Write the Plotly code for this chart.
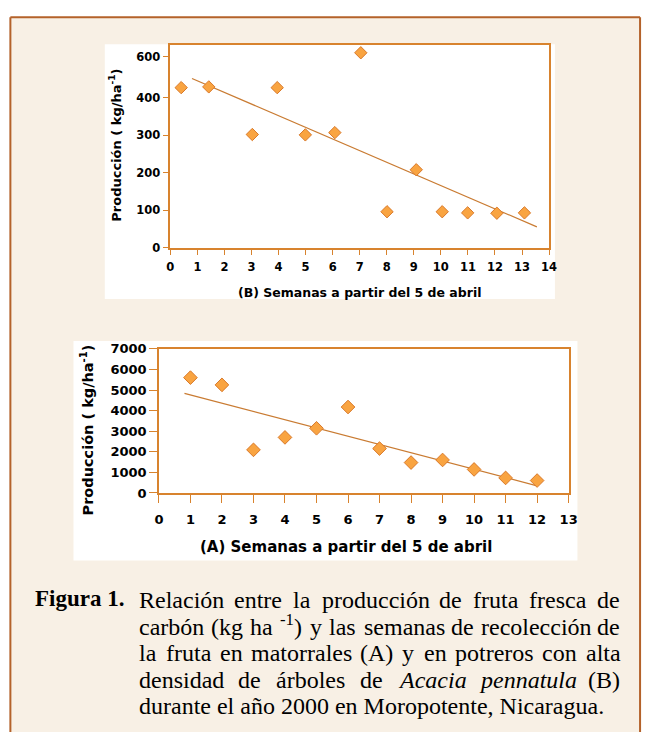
import re
import numpy as np
import plotly.graph_objects as go

W, H = 652, 740

# ---------------- data ----------------
# (B) potreros - top chart
weeks_b = [0.4, 1.42, 3.03, 3.95, 4.99, 6.08, 7.04, 8.01, 9.09, 10.05, 10.99, 12.07, 13.09]
prod_b = [427, 429, 302, 427, 301, 307, 520, 96, 208, 96, 93, 92, 93]
trend_b_x = [0.8, 13.55]
x_ticks_b = list(range(0, 15))
y_tickvals_b = [0, 100, 200, 300, 400, 510]
y_ticktext_b = ["0", "100", "200", "300", "400", "600"]

# (A) matorrales - bottom chart
weeks_a = [1, 2, 3, 4, 5, 6, 7, 8, 9, 10, 11, 12]
prod_a = [5605, 5252, 2095, 2700, 3143, 4176, 2157, 1476, 1603, 1143, 730, 603]
trend_a_x = [0.81, 12.0]
x_ticks_a = list(range(0, 14))
y_ticks_a = [0, 1000, 2000, 3000, 4000, 5000, 6000, 7000]

title_x_b = "(B) Semanas a partir del 5 de abril"
title_x_a = "(A) Semanas a partir del 5 de abril"
title_y = "Producción ( kg/ha<sup>-1</sup>)"

caption_label = "Figura 1."
caption_lines = [
    "Relación entre la producción de fruta fresca de",
    "carbón (kg ha <sup>-1</sup>) y las semanas de recolección de",
    "la fruta en matorrales (A) y en potreros con alta",
    "densidad de árboles de <i>Acacia</i> <i>pennatula</i> (B)",
    "durante el año 2000 en Moropotente, Nicaragua.",
]

# ---------------- style ----------------
BEIGE = "#F8F0E5"
BORDER = "#B4622A"
PLOT_BG = "#FCF4D6"
AXIS_C = "#D8832E"
FILL = "#F9A441"
EDGE = "#D9792A"
TREND_C = "#C97B32"
SANS = "DejaVu Sans"
SERIF = "Liberation Serif"


def px(xp):
    return xp / W


def py(yp):
    return 1 - yp / H


fig = go.Figure()

# trend lines from least-squares fit of the data
fit_b = np.polyfit(weeks_b, prod_b, 1)
fit_a = np.polyfit(weeks_a, prod_a, 1)

fig.add_trace(go.Scatter(x=trend_b_x, y=np.polyval(fit_b, trend_b_x), mode="lines",
                         line=dict(color=TREND_C, width=1.2), xaxis="x", yaxis="y",
                         showlegend=False, hoverinfo="skip"))
fig.add_trace(go.Scatter(x=weeks_b, y=prod_b, mode="markers",
                         marker=dict(symbol="diamond", size=9.5, color=FILL,
                                     line=dict(color=EDGE, width=1)),
                         xaxis="x", yaxis="y", showlegend=False))
fig.add_trace(go.Scatter(x=trend_a_x, y=np.polyval(fit_a, trend_a_x), mode="lines",
                         line=dict(color=TREND_C, width=1.2), xaxis="x2", yaxis="y2",
                         showlegend=False, hoverinfo="skip"))
fig.add_trace(go.Scatter(x=weeks_a, y=prod_a, mode="markers",
                         marker=dict(symbol="diamond", size=10.5, color=FILL,
                                     line=dict(color=EDGE, width=1)),
                         xaxis="x2", yaxis="y2", showlegend=False))

axis_common = dict(showgrid=False, zeroline=False, showline=True, linecolor=AXIS_C,
                   linewidth=1.5, mirror=True, ticks="outside", tickcolor=AXIS_C,
                   tickwidth=1.2, color="black")

fig.update_layout(
    width=W, height=H, margin=dict(l=0, r=0, t=0, b=0),
    paper_bgcolor="white", plot_bgcolor=PLOT_BG, showlegend=False,
    xaxis=dict(domain=[px(169), px(556)], range=[0, 14], tickvals=x_ticks_b,
               ticklen=6, anchor="y", ticklabelstandoff=2,
               tickfont=dict(family=SANS, size=11.5, weight="bold", color="black"),
               **axis_common),
    yaxis=dict(domain=[py(245.7), py(38.3)], range=[0, 542], tickvals=y_tickvals_b,
               ticktext=y_ticktext_b, ticklen=6, anchor="x",
               tickfont=dict(family=SANS, size=11.5, weight="bold", color="black"),
               **axis_common),
    xaxis2=dict(domain=[px(157.3), px(576)], range=[0, 13], tickvals=x_ticks_a,
                ticklen=8, anchor="y2", ticklabelstandoff=6,
                tickfont=dict(family=SANS, size=13, weight="bold", color="black"),
                **axis_common),
    yaxis2=dict(domain=[py(496), py(349)], range=[0, 7000], tickvals=y_ticks_a,
                ticklen=8, anchor="x2",
                tickfont=dict(family=SANS, size=13, weight="bold", color="black"),
                **axis_common),
)

# background panels and the frame (frame kept inside the page)
shapes = [
    dict(type="rect", xref="paper", yref="paper", x0=px(5.5), x1=px(649), y0=0, y1=py(10.5),
         fillcolor=BEIGE, line=dict(width=0), layer="below"),
    dict(type="line", xref="paper", yref="paper", x0=px(5.5), x1=px(649), y0=py(10.5), y1=py(10.5),
         line=dict(color=BORDER, width=2), layer="below"),
    dict(type="line", xref="paper", yref="paper", x0=px(5.5), x1=px(5.5), y0=py(10.5), y1=0,
         line=dict(color=BORDER, width=2), layer="below"),
    dict(type="line", xref="paper", yref="paper", x0=px(649), x1=px(649), y0=py(10.5), y1=0,
         line=dict(color=BORDER, width=2), layer="below"),
    dict(type="rect", xref="paper", yref="paper", x0=px(102), x1=px(562), y0=py(298), y1=py(38),
         fillcolor="white", line=dict(width=0), layer="below"),
    dict(type="rect", xref="paper", yref="paper", x0=px(70), x1=px(585), y0=py(565), y1=py(341),
         fillcolor="white", line=dict(width=0), layer="below"),
]
fig.update_layout(shapes=shapes)

ann = []
# axis titles
ann.append(dict(text=title_x_b, x=px(363), y=py(291), xref="paper", yref="paper",
                xanchor="center", yanchor="middle", showarrow=False,
                font=dict(family=SANS, size=12.5, weight="bold", color="black")))
ann.append(dict(text=title_y, x=px(113), y=py(141), xref="paper", yref="paper",
                xanchor="center", yanchor="middle", showarrow=False, textangle=-90,
                font=dict(family=SANS, size=13, weight="bold", color="black")))
ann.append(dict(text=title_x_a, x=px(348), y=py(551), xref="paper", yref="paper",
                xanchor="center", yanchor="middle", showarrow=False,
                font=dict(family=SANS, size=15, weight="bold", color="black")))
ann.append(dict(text=title_y, x=px(84), y=py(432), xref="paper", yref="paper",
                xanchor="center", yanchor="middle", showarrow=False, textangle=-90,
                font=dict(family=SANS, size=14.5, weight="bold", color="black")))

# caption with justified lines (Times/Liberation Serif metrics)
REG = {
    'a': 444, 'b': 500, 'c': 444, 'd': 500, 'e': 444, 'f': 333, 'g': 500, 'h': 500, 'i': 278,
    'j': 278, 'k': 500, 'l': 278, 'm': 778, 'n': 500, 'o': 500, 'p': 500, 'q': 500, 'r': 333,
    's': 389, 't': 278, 'u': 500, 'v': 500, 'w': 722, 'x': 500, 'y': 500, 'z': 444,
    'á': 444, 'ó': 500, 'ñ': 500, 'é': 444, 'í': 278,
    'A': 722, 'B': 667, 'M': 889, 'N': 722, 'R': 667,
    '(': 333, ')': 333, ',': 250, '.': 250, '-': 333,
}
ITAL = {'A': 611, 'c': 444, 'a': 500, 'i': 278, 'p': 500, 'e': 444, 'n': 500, 't': 278,
        'u': 500, 'l': 278}


def word_width(word, size):
    total = 0.0
    italic = False
    sup = False
    for tok in re.split(r'(<[^>]+>)', word):
        if tok.startswith('<'):
            if tok == '<i>':
                italic = True
            elif tok == '</i>':
                italic = False
            elif tok == '<sup>':
                sup = True
            elif tok == '</sup>':
                sup = False
            continue
        for ch in tok:
            w = (ITAL if italic else REG).get(ch, 500)
            total += w * (0.7 if sup else 1.0)
    return total / 1000 * size


CAP_SIZE = 24
LEFT, RIGHT = 137, 628
line_bottoms = [619, 646, 673, 700, 727]

ann.append(dict(text="<b>" + caption_label + "</b>", x=px(29), y=py(line_bottoms[0]),
                xref="paper", yref="paper", xanchor="left", yanchor="bottom", showarrow=False,
                font=dict(family=SERIF, size=23, color="black")))

for i, line in enumerate(caption_lines):
    words = line.split(" ")
    if i < len(caption_lines) - 1:
        widths = [word_width(w, CAP_SIZE) for w in words]
        gap = (RIGHT - LEFT - sum(widths)) / (len(words) - 1)
        xpos = LEFT
        for w, wd in zip(words, widths):
            ann.append(dict(text=w, x=px(xpos), y=py(line_bottoms[i]), xref="paper", yref="paper",
                            xanchor="left", yanchor="bottom", showarrow=False, borderpad=0,
                            borderwidth=0,
                            font=dict(family=SERIF, size=CAP_SIZE, color="black")))
            xpos += wd + gap
    else:
        ann.append(dict(text=line, x=px(LEFT), y=py(line_bottoms[i]), xref="paper", yref="paper",
                        xanchor="left", yanchor="bottom", showarrow=False, borderpad=0,
                        borderwidth=0,
                        font=dict(family=SERIF, size=CAP_SIZE, color="black")))

fig.update_layout(annotations=ann)

# pin the figure to the window's top-left corner and make it fill the window exactly
PIN_JS = (
    "document.documentElement.style.margin='0';"
    "document.documentElement.style.overflow='hidden';"
    "document.body.style.margin='0';"
    "document.body.style.overflow='hidden';"
    "var gd=document.getElementsByClassName('plotly-graph-div')[0];"
    "gd.style.position='fixed';gd.style.left='0px';gd.style.top='0px';"
    "gd.style.transformOrigin='0 0';"
    "var sx=window.innerWidth/%d, sy=window.innerHeight/%d;"
    "if(sx>0&&sy>0&&(Math.abs(sx-1)>0.001||Math.abs(sy-1)>0.001)){"
    "gd.style.transform='scale('+sx+','+sy+')';}"
) % (W, H)
fig.write_html("out.html", config={"displayModeBar": False}, post_script=PIN_JS)
